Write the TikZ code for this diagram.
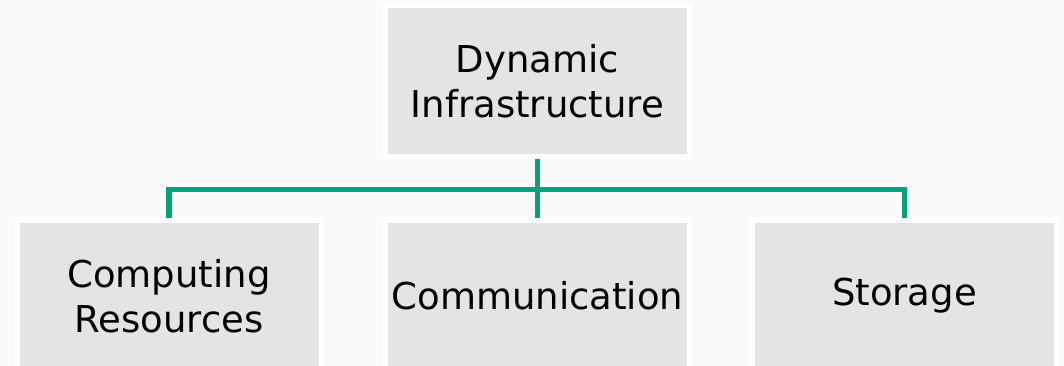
\documentclass[tikz,border=0pt]{standalone}
\usepackage{fontspec}
\setmainfont{DejaVu Sans}
\usetikzlibrary{positioning}

\definecolor{bgcol}{RGB}{250,250,250}
\definecolor{boxcol}{RGB}{228,228,228}
\definecolor{linkcol}{RGB}{10,160,122}

\begin{document}
\begin{tikzpicture}[x=1pt,y=1pt,
    infobox/.style={draw=white, line width=5pt, fill=boxcol,
      minimum width=304pt, minimum height=151pt, inner sep=0pt,
      align=center, font=\fontsize{37}{45}\selectfont},
    link/.style={draw=linkcol, line width=5.5pt, line join=miter}]
  \fill[bgcol] (0,0) rectangle (1064,-366);
  \useasboundingbox (0,0) rectangle (1064,-366);

  \node[infobox] (dyn) at (537.5,-81) {Dynamic\\Infrastructure};

  \node[infobox] (comp) at (169,-296) {Computing\\Resources};
  \node[infobox] (comm) at (537.5,-296) {Communication};
  \node[infobox] (stor) at (904.5,-296) {Storage};

  \coordinate (bus) at (537.5,-189.5);

  \draw[link] (dyn.south) -- (comm.north);
  \draw[link] (comp.north) -- (comp.north |- bus) -- (stor.north |- bus) -- (stor.north);
\end{tikzpicture}
\end{document}
